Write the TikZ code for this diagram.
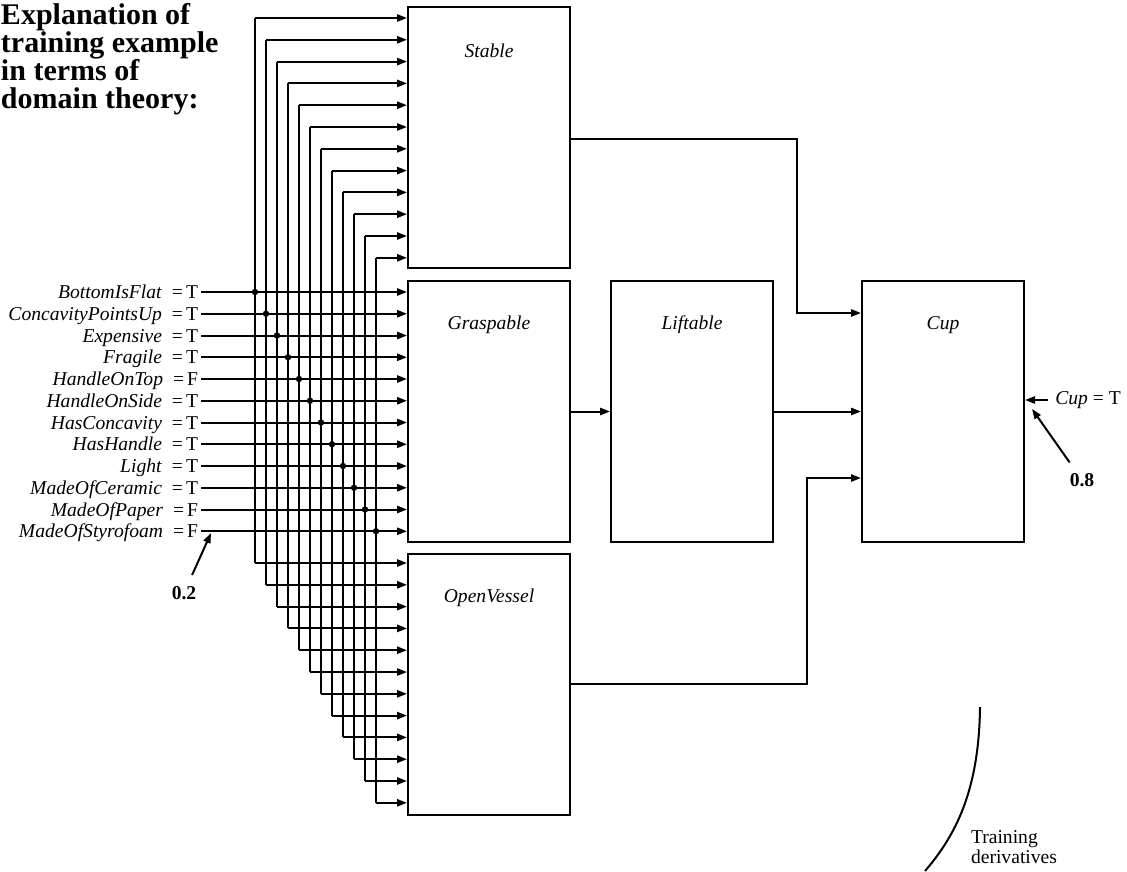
\documentclass[tikz,border=0pt]{standalone}
\usepackage{fontspec}
\setmainfont{Liberation Serif}
\usetikzlibrary{arrows.meta}

\begin{document}
\begin{tikzpicture}[x=0.5pt, y=-0.5pt, line width=1pt,
  >={Stealth[length=5pt, width=3.6pt, inset=0pt]},
  every node/.style={font=\fontsize{9.8}{10}\selectfont},
  unit/.style={draw, rectangle, inner sep=0pt, minimum width=81pt, minimum height=130.5pt},
  inname/.style={anchor=east, inner sep=1pt, text height=6.5pt, text depth=0pt},
  weight/.style={font=\fontsize{9.8}{10}\bfseries}]
\useasboundingbox (0,0) rectangle (1127,871);

\node[anchor=north west, align=left, inner sep=0pt, font=\fontsize{15}{14}\bfseries] (title) at (0,2)
  {Explanation of\\training example\\in terms of\\domain theory:};

% units
\node[unit] (stable) at (489,137.5) {};
\node[unit] (grasp) at (489,411.5) {};
\node[unit] (openv) at (489,684) {};
\node[unit] (lift) at (692,411.5) {};
\node[unit] (cup) at (943,411.5) {};
\node (stabletxt) at ([yshift=-22.5pt]stable.north) {\textit{Stable}};
\node (grasptxt) at ([yshift=-22.5pt]grasp.north) {\textit{Graspable}};
\node (openvtxt) at ([yshift=-22.5pt]openv.north) {\textit{OpenVessel}};
\node (lifttxt) at ([yshift=-22.5pt]lift.north) {\textit{Liftable}};
\node (cuptxt) at ([yshift=-22.5pt]cup.north) {\textit{Cup}};

% inputs
\foreach \name/\val [count=\i from 0] in {BottomIsFlat/T, ConcavityPointsUp/T, Expensive/T, Fragile/T,
    HandleOnTop/F, HandleOnSide/T, HasConcavity/T, HasHandle/T, Light/T, MadeOfCeramic/T,
    MadeOfPaper/F, MadeOfStyrofoam/F} {
  \pgfmathsetmacro\yin{292+21.75*\i}
  \pgfmathsetmacro\xv{255+11*\i}
  \node[inname] (in\i) at (201,\yin) {\textit{\name}\hspace{5pt}=\hspace{1.5pt}\val};
  \coordinate (dot\i) at (\xv,\yin);
  \coordinate (s\i) at (\xv,18+21.8*\i);
  \coordinate (o\i) at (\xv,563+21.8*\i);
  \draw[->] (in\i.east) -- (in\i.east -| grasp.west);
  \draw (s\i) -- (o\i);
  \draw[->] (s\i) -- (s\i -| stable.west);
  \draw[->] (o\i) -- (o\i -| openv.west);
  \fill (dot\i) circle (1.6pt);
}

% between units
\coordinate (sc1) at (797,139);
\coordinate (sc2) at (797,313);
\coordinate (oc1) at (807,684);
\coordinate (oc2) at (807,478);
\draw[->] (stable.east |- sc1) -- (sc1) -- (sc2) -- (cup.west |- sc2);
\draw[->] (grasp.east) -- (lift.west);
\draw[->] (lift.east) -- (cup.west);
\draw[->] (openv.east |- oc1) -- (oc1) -- (oc2) -- (cup.west |- oc2);

% output and weights
\node (cupout) at (1088,400) {\textit{Cup} = T};
\draw[->] (cupout.west) -- (cupout.west -| cup.east);
\node[weight] (w8) at (1082,480) {0.8};
\coordinate (w8tip) at (1032,409);
\draw[->, shorten <=2pt] (w8) -- (w8tip);
\node[weight] (w2) at (184,593) {0.2};
\coordinate (w2tip) at (211,533);
\draw[->, shorten <=2pt] (w2) -- (w2tip);

% training derivatives
\draw (980,707) .. controls (979,790) and (956,835) .. (925,871);
\node[anchor=west, align=left, inner sep=0pt] (train) at (970,847) {Training\\derivatives};
\end{tikzpicture}
\end{document}
